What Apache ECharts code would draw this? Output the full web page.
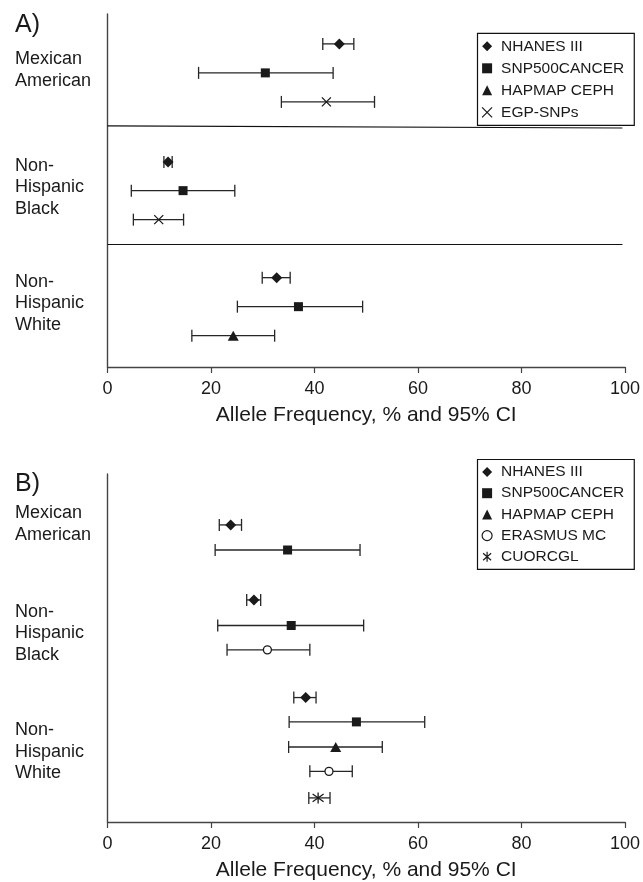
<!DOCTYPE html>
<html>
<head>
<meta charset="utf-8">
<script src="https://cdn.jsdelivr.net/npm/echarts@6/dist/echarts.min.js"></script>
<style>
  html, body { margin: 0; padding: 0; background: #fff; }
  #chart { width: 643px; height: 882px; }
</style>
</head>
<body>
<div id="chart"></div>
<script>
// ---- data ----
const panelLabels = ['A)', 'B)'];
const groups = ['Mexican\nAmerican', 'Non-\nHispanic\nBlack', 'Non-\nHispanic\nWhite'];
const xTicks = [0, 20, 40, 60, 80, 100];
const xName = 'Allele Frequency, % and 95% CI';

// panel A
const sourcesA = ['NHANES III', 'SNP500CANCER', 'HAPMAP CEPH', 'EGP-SNPs'];
const rowSourceA = [0, 1, 3, 0, 1, 3, 0, 1, 2];
const estA = [44.8, 30.5, 42.3, 11.7, 14.6, 9.9, 32.7, 36.9, 24.3];
const lowA = [41.6, 17.6, 33.6, 10.9, 4.6, 5.0, 29.9, 25.1, 16.3];
const highA = [47.6, 43.6, 51.6, 12.5, 24.6, 14.7, 35.3, 49.3, 32.3];
const rowPosA = [1.03, 2.03, 3.03, 5.1, 6.09, 7.09, 9.09, 10.09, 11.09];

// panel B
const sourcesB = ['NHANES III', 'SNP500CANCER', 'HAPMAP CEPH', 'ERASMUS MC', 'CUORCGL'];
const rowSourceB = [0, 1, 0, 1, 3, 0, 1, 2, 3, 4];
const estB = [23.8, 34.8, 28.3, 35.5, 30.9, 38.3, 48.1, 44.1, 42.8, 40.7];
const lowB = [21.6, 20.8, 26.9, 21.3, 23.1, 36.0, 35.1, 35.0, 39.1, 38.9];
const highB = [25.9, 48.8, 29.6, 49.5, 39.1, 40.3, 61.3, 53.1, 47.3, 43.0];
const rowPosB = [2.07, 3.09, 5.12, 6.16, 7.15, 9.09, 10.08, 11.1, 12.09, 13.17];

// ---- look ----
const FONT = '"Liberation Sans", Arial, sans-serif';
const INK = '#1a1a1a';
const symbols = {
  'NHANES III': { symbol: 'diamond', size: [11, 11], fill: INK },
  'SNP500CANCER': { symbol: 'rect', size: 9, fill: INK },
  'HAPMAP CEPH': { symbol: 'triangle', size: [11, 10], fill: INK },
  'EGP-SNPs': { symbol: 'path://M0,0L10,10M10,0L0,10', size: 9, fill: 'rgba(0,0,0,0)', stroke: INK },
  'ERASMUS MC': { symbol: 'circle', size: 8, fill: '#fff', stroke: INK },
  'CUORCGL': { symbol: 'path://M5,0L5,10M1,1.5L9,8.5M9,1.5L1,8.5', size: 11, fill: 'rgba(0,0,0,0)', stroke: INK }
};

const chart = echarts.init(document.getElementById('chart'));

function errorBars(params, api) {
  const y = api.value(2);
  const a = api.coord([api.value(0), y]);
  const b = api.coord([api.value(1), y]);
  const h = 6;
  const style = { stroke: '#262626', lineWidth: 1.3 };
  return {
    type: 'group',
    children: [
      { type: 'line', shape: { x1: a[0], y1: a[1], x2: b[0], y2: b[1] }, style: style },
      { type: 'line', shape: { x1: a[0], y1: a[1] - h, x2: a[0], y2: a[1] + h }, style: style },
      { type: 'line', shape: { x1: b[0], y1: b[1] - h, x2: b[0], y2: b[1] + h }, style: style }
    ]
  };
}

function panelSeries(idx, sources, rowSource, est, low, high, rowPos, seps) {
  const out = [];
  out.push({
    type: 'custom',
    name: 'ci' + idx,
    xAxisIndex: idx, yAxisIndex: idx,
    renderItem: errorBars,
    data: low.map((l, i) => [l, high[i], rowPos[i]]),
    z: 2,
    silent: true,
    markLine: {
      silent: true,
      symbol: 'none',
      label: { show: false },
      lineStyle: { color: '#111', width: 1.2, type: 'solid' },
      data: seps.map(s => [{ coord: [0, s[0]] }, { coord: [s[2], s[1]] }])
    }
  });
  sources.forEach((name, si) => {
    const st = symbols[name];
    const data = [];
    rowSource.forEach((r, i) => { if (r === si) data.push([est[i], rowPos[i]]); });
    out.push({
      type: 'scatter',
      name: name,
      xAxisIndex: idx, yAxisIndex: idx,
      symbol: st.symbol,
      symbolSize: st.size,
      itemStyle: st.stroke
        ? { color: st.fill, borderColor: st.stroke, borderWidth: 1.3, opacity: 1 }
        : { color: st.fill, opacity: 1 },
      data: data,
      z: 3,
      silent: true
    });
  });
  return out;
}

function xAxis(idx) {
  return {
    type: 'value', gridIndex: idx, min: 0, max: 100, interval: 20,
    position: 'bottom',
    axisLine: { onZero: false, lineStyle: { color: '#444', width: 1.4 } },
    axisTick: { show: true, length: 6, lineStyle: { color: '#444', width: 1.2 } },
    splitLine: { show: false },
    axisLabel: { color: INK, fontSize: 18, fontFamily: FONT, margin: 13,
      customValues: xTicks },
    name: xName, nameLocation: 'middle', nameGap: 38,
    nameTextStyle: { color: INK, fontSize: 21, fontFamily: FONT }
  };
}

function yAxis(idx, max) {
  return {
    type: 'value', gridIndex: idx, min: 0, max: max, inverse: true,
    axisLine: { show: true, onZero: false, lineStyle: { color: '#444', width: 1.4 } },
    axisTick: { show: false }, axisLabel: { show: false }, splitLine: { show: false }
  };
}

function legend(sources, top, gap, pad) {
  return {
    orient: 'vertical', left: 477.5, top: top,
    data: sources,
    itemWidth: 10, itemHeight: 10, itemGap: gap,
    padding: pad,
    borderColor: '#111', borderWidth: 1.2,
    selectedMode: false,
    itemStyle: { borderWidth: 1.2 },
    textStyle: { color: INK, fontSize: 15.5, fontFamily: FONT, padding: [0, 0, 0, 4] }
  };
}

// left-hand text
const graphic = [];
const labelTops = [[25, [70, 187.5, 303.5]], [484, [524, 633.5, 752]]];
labelTops.forEach((p, pi) => {
  graphic.push({ type: 'text', x: 15, y: p[0],
    style: { text: panelLabels[pi], fill: INK, font: '25px ' + FONT, verticalAlign: 'middle' } });
  p[1].forEach((cy, gi) => {
    graphic.push({ type: 'text', x: 15, y: cy,
      style: { text: groups[gi], fill: INK, font: '18px ' + FONT, lineHeight: 21.5,
        verticalAlign: 'middle' } });
  });
});

const option = {
  backgroundColor: '#fff',
  animation: false,
  grid: [
    { left: 107.5, right: 17.5, top: 14, height: 353 },
    { left: 107.5, right: 17.5, top: 474, height: 348 }
  ],
  xAxis: [xAxis(0), xAxis(1)],
  yAxis: [yAxis(0, 12.17), yAxis(1, 14.15)],
  legend: [legend(sourcesA, 33.3, 6, [5, 10, 5, 4]), legend(sourcesB, 459.5, 5.2, [4.5, 10, 4.5, 4])],
  graphic: graphic,
  series: [].concat(
    panelSeries(0, sourcesA, rowSourceA, estA, lowA, highA, rowPosA,
      [[3.86, 3.93, 99.5], [7.93, 7.93, 99.5]]),
    panelSeries(1, sourcesB, rowSourceB, estB, lowB, highB, rowPosB,
      [[4.15, 4.15, 100.3], [8.13, 8.27, 100.3]])
  )
};

chart.setOption(option);
</script>
</body>
</html>
